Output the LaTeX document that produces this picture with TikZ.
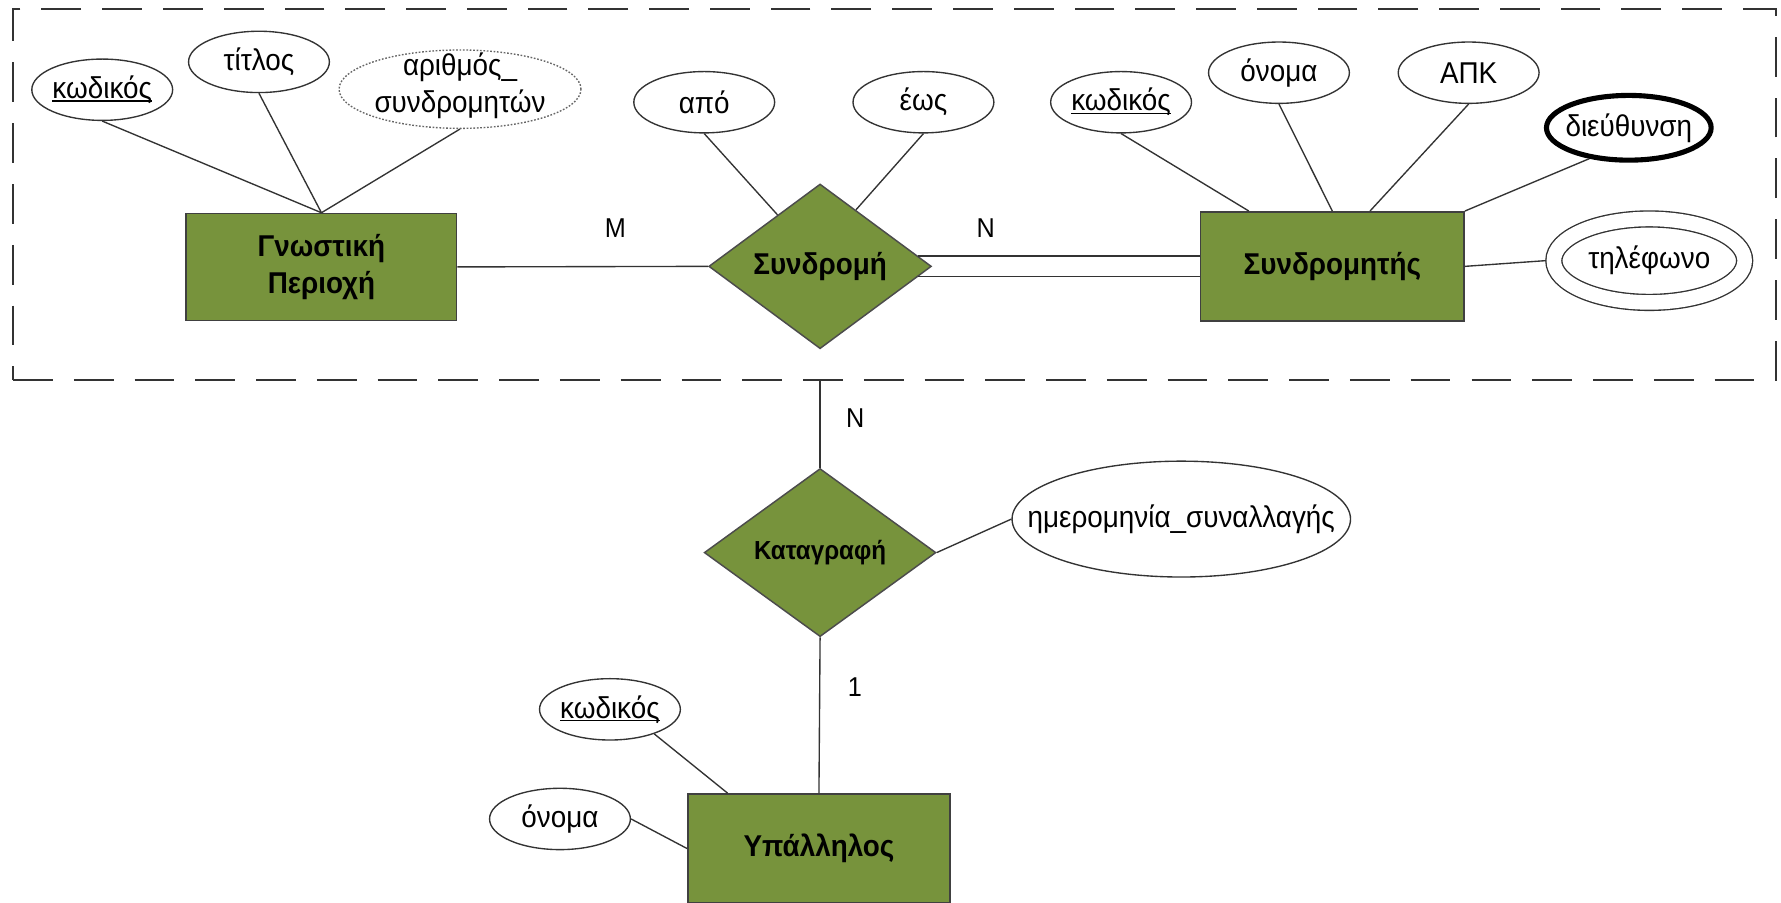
\documentclass[tikz,border=0pt]{standalone}
\usepackage{fontspec}
\setmainfont{Liberation Sans}[FakeStretch=0.925]
\usetikzlibrary{shapes.geometric,calc}
\definecolor{olivefill}{RGB}{119,147,60}
\newsavebox\pkbox
\newcommand{\pk}[1]{\sbox\pkbox{#1}\rlap{\rule[-3pt]{\wd\pkbox}{1.3pt}}\usebox\pkbox}
\newcommand{\nw}[1]{\makebox[0pt]{#1}}
\begin{document}
\begin{tikzpicture}[x=1pt,y=-1pt,font=\fontsize{26.5}{32.5}\selectfont]
\tikzstyle{entity} = [rectangle, draw=black!75, line width=1.4pt, fill=olivefill, minimum width=238pt, minimum height=94pt, align=center, font=\fontsize{26.5}{32.5}\selectfont\bfseries]
\tikzstyle{relation} = [diamond, draw=black!70, line width=1.3pt, fill=olivefill, inner sep=0pt, minimum width=196pt, minimum height=145pt, font=\fontsize{26.5}{32.5}\selectfont\bfseries]
\tikzstyle{attrib} = [ellipse, draw=black!80, line width=1.2pt, fill=white, inner sep=0pt, minimum width=124pt, minimum height=54pt]
\tikzstyle{link} = [draw=black!80, line width=1.2pt]
\tikzstyle{card} = [inner sep=0pt, font=\fontsize{24}{28}\selectfont]
\useasboundingbox (0,0) rectangle (1568,795);
% aggregation box
\node[draw=black!80, line width=2.2pt, dash pattern=on 35pt off 18.5pt, minimum width=1552pt, minimum height=326.5pt, inner sep=0pt] (AGG) at (787.5,171.25) {};
% entities and relationships
\node[entity] (GP) at (283,235) {Γνωστική\\Περιοχή};
\node[entity, minimum width=232pt, minimum height=96pt] (SR) at (1173,234.5) {Συνδρομητής};
\node[entity, minimum width=231pt, minimum height=96pt, font=\fontsize{26.5}{30}\selectfont\bfseries] (YP) at (721,747) {Υπάλληλος};
\node[relation] (SD) at (722,234.5) {Συνδρομή};
\node[relation, minimum width=204pt, minimum height=148pt, font=\fontsize{23}{27}\selectfont\bfseries] (KT) at (722,486.5) {Καταγραφή};
% attributes
\node[attrib] (KG) at (90,79) {\nw{\pk{κωδικός}}};
\node[attrib] (TI) at (228,54.5) {\nw{τίτλος}};
\node[attrib, minimum width=213pt, minimum height=69pt, draw=black!60, dash pattern=on 1.5pt off 1.5pt] (AS) at (405,78.5) {\nw{\raisebox{-4pt}[0pt][0pt]{\begin{tabular}{@{}c@{}}αριθμός\_\\συνδρομητών\end{tabular}}}};
\node[attrib] (AP) at (620,90) {\nw{από}};
\node[attrib] (EO) at (813,90) {\nw{έως}};
\node[attrib] (KS) at (987,90) {\nw{\pk{κωδικός}}};
\node[attrib] (OS) at (1126,64) {\nw{όνομα}};
\node[attrib] (APK) at (1293,64) {\nw{ΑΠΚ}};
\node[attrib, minimum width=145pt, minimum height=57pt, draw=black, line width=4.5pt] (DI) at (1434,112.5) {\nw{διεύθυνση}};
\node[attrib, minimum width=168pt, minimum height=73.5pt, double, double distance=12.8pt, outer sep=7.6pt] (TE) at (1452,229.5) {\nw{τηλέφωνο}};
\node[attrib, minimum width=298pt, minimum height=102pt] (HM) at (1040,457) {\nw{ημερομηνία\_συναλλαγής}};
\node[attrib] (KY) at (537,624.5) {\nw{\pk{κωδικός}}};
\node[attrib] (OY) at (493,721) {\nw{όνομα}};
% connectors
\draw[link] (KG.south) -- (GP.north);
\draw[link] (TI.south) -- (GP.north);
\draw[link] (AS.south) -- (GP.north);
\draw[link] (GP.east) -- (SD.west) node[card, pos=0.63, yshift=33.5pt] (cM) {M};
\draw[link] (AP.south) -- ($(SD.west)!0.62!(SD.north)$);
\draw[link] (EO.south) -- ($(SD.north)!0.32!(SD.east)$);
\draw[link] ($(SD.north)!0.875!(SD.east)$) coordinate (up) -- (up -| SR.west) node[card, pos=0.24, yshift=24.4pt] (cN) {N};
\draw[link] ($(SD.south)!0.875!(SD.east)$) coordinate (lo) -- (lo -| SR.west);
\draw[link] (KS.south) -- ($(SR.north west)!0.185!(SR.north east)$);
\draw[link] (OS.south) -- (SR.north);
\draw[link] (APK.south) -- ($(SR.north west)!0.642!(SR.north east)$);
\draw[link] (DI.218) -- (SR.north east);
\draw[link] (SR.east) -- (TE.west);
\draw[link] (KT.north) -- (KT.north |- AGG.south) node[card, pos=0.57, xshift=31pt] (cN2) {N};
\draw[link] (KT.east) -- (HM.west);
\draw[link] (KT.south) -- (YP.north) node[card, pos=0.32, xshift=31pt] (c1) {1};
\draw[link] (KY.331) -- ($(YP.north west)!0.154!(YP.north east)$);
\draw[link] (OY.east) -- (YP.west);
\end{tikzpicture}
\end{document}
